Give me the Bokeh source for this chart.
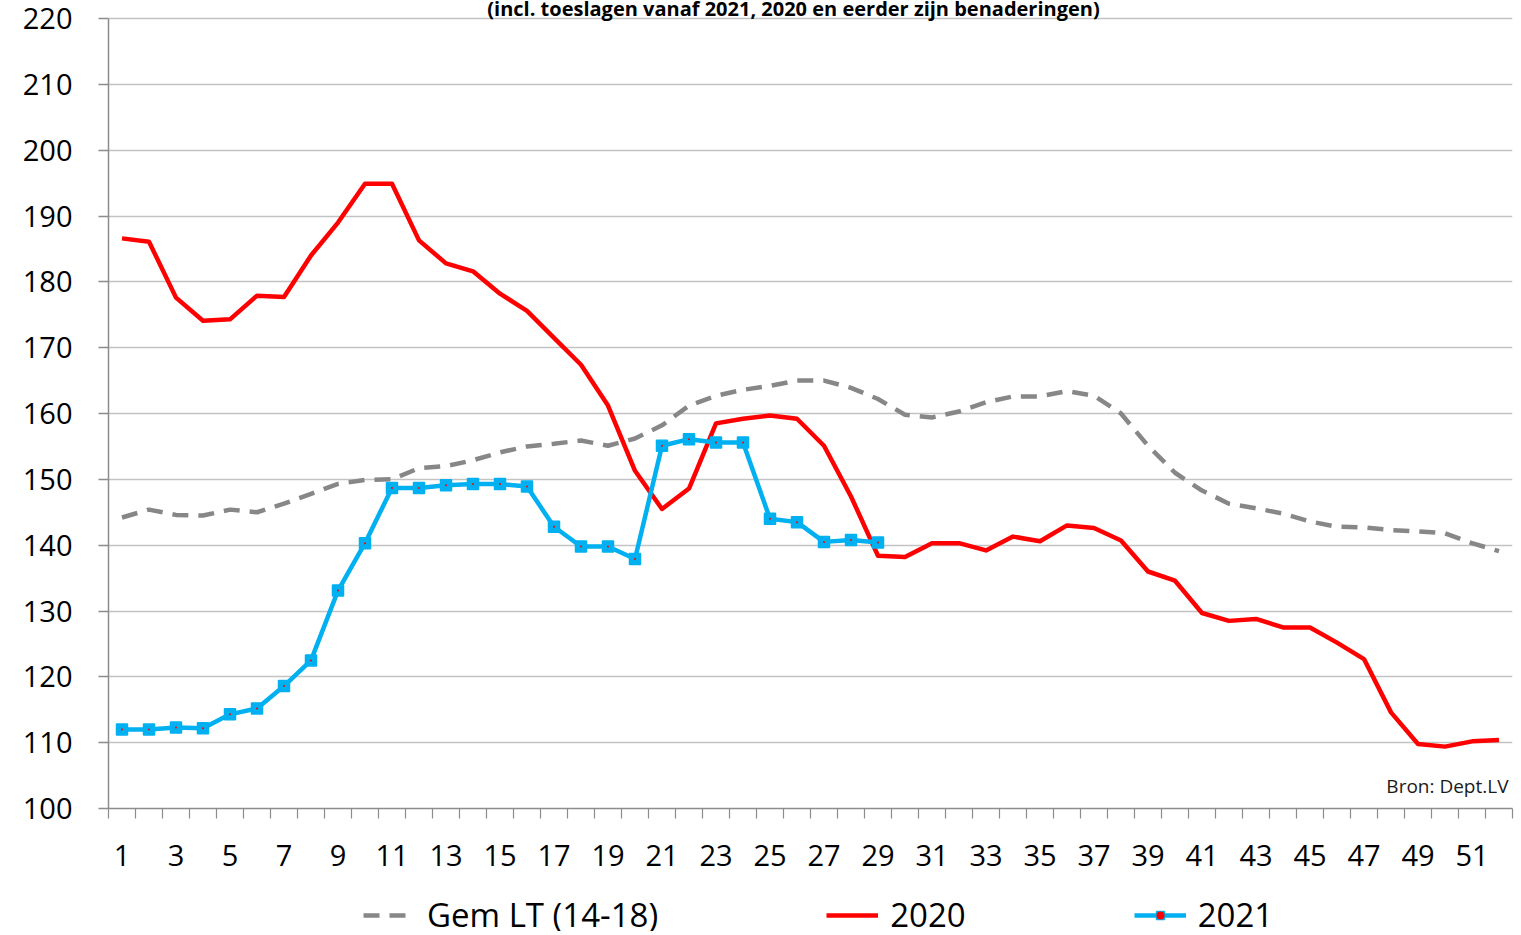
from bokeh.plotting import figure
from bokeh.layouts import column
from bokeh.models import FixedTicker, Label, Legend, LegendItem, Range1d
from bokeh.embed import file_html
from bokeh.resources import INLINE

# ---------------- data ----------------
weeks = list(range(1, 53))

gem_lt = [144.2, 145.4, 144.6, 144.5, 145.4, 145.0, 146.3, 147.8, 149.3, 149.9,
          150.0, 151.7, 152.0, 152.9, 154.1, 155.0, 155.4, 155.9, 155.1, 156.2,
          158.2, 161.2, 162.7, 163.6, 164.2, 165.0, 165.0, 163.9, 162.2, 159.8,
          159.4, 160.3, 161.7, 162.6, 162.6, 163.4, 162.7, 160.0, 155.1, 151.0,
          148.3, 146.3, 145.6, 144.8, 143.6, 142.8, 142.7, 142.3, 142.1, 141.8,
          140.3, 139.1]

y2020 = [186.6, 186.1, 177.6, 174.1, 174.3, 177.9, 177.7, 184.0, 189.0, 194.9,
         194.9, 186.3, 182.8, 181.6, 178.2, 175.6, 171.5, 167.4, 161.2, 151.3,
         145.5, 148.6, 158.5, 159.2, 159.7, 159.2, 155.1, 147.4, 138.4, 138.2,
         140.3, 140.3, 139.2, 141.3, 140.6, 143.0, 142.6, 140.7, 136.0, 134.6,
         129.7, 128.5, 128.8, 127.5, 127.5, 125.2, 122.7, 114.6, 109.8, 109.4,
         110.2, 110.4]

y2021 = [112.0, 112.0, 112.3, 112.2, 114.3, 115.2, 118.6, 122.5, 133.1, 140.3,
         148.7, 148.7, 149.1, 149.3, 149.3, 148.9, 142.8, 139.8, 139.8, 137.9,
         155.1, 156.1, 155.6, 155.6, 144.0, 143.5, 140.5, 140.8, 140.4]
weeks_2021 = weeks[:len(y2021)]

x_tick_labels = {w: (str(w) if w % 2 == 1 else "") for w in weeks}
y_ticks = list(range(100, 221, 10))
y_min, y_max = 100, 220

series_names = ["Gem LT (14-18)", "2020", "2021"]
title_text = "(incl. toeslagen vanaf 2021, 2020 en eerder zijn benaderingen)"
source_text = "Bron: Dept.LV"

FONT = "Open Sans"
GRAY, RED, BLUE = "#878787", "#FF0000", "#00B0F0"


def add_series(fig):
    """Draw the three series on a figure; returns the renderers."""
    r_gem = fig.line(weeks, gem_lt, line_color=GRAY, line_width=4.5,
                     line_dash="16 10")
    r_2020 = fig.line(weeks, y2020, line_color=RED, line_width=4.5,
                      line_join="round")
    r_2021 = fig.line(weeks_2021, y2021, line_color=BLUE, line_width=4.5,
                      line_join="round")
    r_2021m = fig.scatter(weeks_2021, y2021, marker="square", size=11,
                          fill_color=BLUE, line_color=BLUE, line_width=1.5)
    r_2021d = fig.scatter(weeks_2021, y2021, marker="circle", size=2,
                          fill_color=RED, line_color=None)
    return r_gem, r_2020, r_2021, r_2021m, r_2021d


# ---------------- main figure ----------------
# frame reaches the top of the canvas (room for the title above the 220 line);
# the axis line itself is bounded to 100..220
FRAME_H = 808
top_pad_px = 18
y_top = y_max + top_pad_px * (y_max - y_min) / (FRAME_H - top_pad_px)

p = figure(width=1517, height=896, output_backend="svg", toolbar_location=None,
           x_range=Range1d(0.5, 52.5), y_range=Range1d(y_min, y_top),
           min_border_left=108, min_border_right=5, min_border_top=0,
           min_border_bottom=88)
p.outline_line_color = None
p.background_fill_color = "white"
p.border_fill_color = "white"

p.xgrid.grid_line_color = None
p.ygrid.grid_line_color = "#C3C3C3"
p.ygrid.grid_line_width = 1.5

p.yaxis.ticker = FixedTicker(ticks=y_ticks)
p.yaxis.bounds = (y_min, y_max)
p.yaxis.axis_line_color = "#8C8C8C"
p.yaxis.axis_line_width = 1.5
p.yaxis.major_tick_line_color = "#8C8C8C"
p.yaxis.major_tick_line_width = 1.5
p.yaxis.major_tick_out = 10
p.yaxis.major_tick_in = 0
p.yaxis.minor_tick_line_color = None
p.yaxis.major_label_standoff = 26
p.yaxis.major_label_text_font = FONT
p.yaxis.major_label_text_font_size = "29px"
p.yaxis.major_label_text_color = "#000000"

p.xaxis.ticker = FixedTicker(ticks=weeks, minor_ticks=[w - 0.5 for w in weeks] + [52.5])
p.xaxis.major_label_overrides = x_tick_labels
p.xaxis.axis_line_color = "#8C8C8C"
p.xaxis.axis_line_width = 1.5
p.xaxis.major_tick_line_color = None
p.xaxis.major_tick_out = 0
p.xaxis.major_tick_in = 0
p.xaxis.minor_tick_line_color = "#8C8C8C"
p.xaxis.minor_tick_line_width = 1.2
p.xaxis.minor_tick_out = 10
p.xaxis.minor_tick_in = 0
p.xaxis.major_label_standoff = 26
p.xaxis.major_label_text_font = FONT
p.xaxis.major_label_text_font_size = "29px"
p.xaxis.major_label_text_color = "#000000"

add_series(p)

p.add_layout(Label(x=685, y=800, x_units="screen", y_units="screen",
                   text=title_text, text_align="center",
                   text_baseline="alphabetic", text_font=FONT,
                   text_font_style="bold", text_font_size="20px",
                   text_color="#000000"))
p.add_layout(Label(x=1400, y=23, x_units="screen", y_units="screen",
                   text=source_text, text_align="right",
                   text_baseline="alphabetic", text_font=FONT,
                   text_font_size="19px", text_color="#1A1A1A"))

# ---------------- legend strip (series drawn off-range, only keys show) ----
lg = figure(width=1517, height=35, output_backend="svg", toolbar_location=None,
            x_range=Range1d(-1, 0), y_range=Range1d(-1, 0),
            x_axis_type=None, y_axis_type=None, min_border=0)
lg.outline_line_color = None
lg.grid.grid_line_color = None
lg.background_fill_color = "white"
lg.border_fill_color = "white"

k_gem, k_2020, k_2021, k_2021m, k_2021d = add_series(lg)

legend = Legend(items=[LegendItem(label=series_names[0], renderers=[k_gem]),
                       LegendItem(label=series_names[1], renderers=[k_2020]),
                       LegendItem(label=series_names[2],
                                  renderers=[k_2021, k_2021m, k_2021d])],
                location=(255, -6), orientation="horizontal",
                glyph_width=52, glyph_height=20, label_standoff=12,
                padding=0, margin=0, spacing=168,
                border_line_color=None, background_fill_alpha=0,
                label_text_font=FONT, label_text_font_size="33px",
                label_text_color="#000000")
lg.add_layout(legend, "center")

open("out.html", "w").write(file_html(column(p, lg), INLINE))
